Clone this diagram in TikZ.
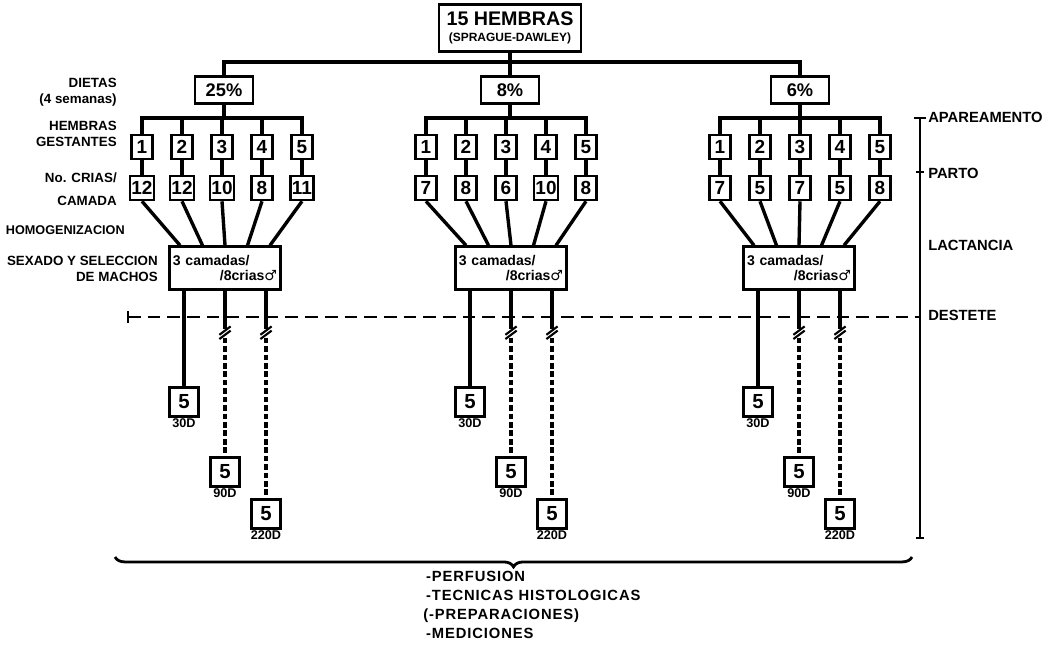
\documentclass[tikz,border=0pt]{standalone}
\usepackage{fontspec}
\setmainfont{Liberation Sans}
\newfontfamily\malefont{DejaVu Sans}
\usetikzlibrary{decorations.pathreplacing}

\begin{document}
\begin{tikzpicture}[
x=0.025cm, y=-0.025cm,
font=\bfseries,
% Define box styles
topbox/.style = {rectangle, draw=black, line width=1.9pt, minimum width=3.55cm, minimum height=1.175cm, inner sep=1pt, align=center},
dietbox/.style = {rectangle, draw=black, line width=1.9pt, minimum width=1.45cm, minimum height=0.675cm, inner sep=1pt, font=\bfseries\fontsize{13}{14}\selectfont},
numbox/.style = {rectangle, draw=black, line width=1.8pt, minimum width=0.525cm, minimum height=0.6cm, inner sep=1pt, font=\bfseries\fontsize{13.5}{14}\selectfont},
mixbox/.style = {rectangle, draw=black, line width=1.6pt, minimum width=2.775cm, minimum height=1.075cm, text width=2.6cm, align=left, inner sep=2pt, font=\bfseries\fontsize{10}{11}\selectfont},
resbox/.style = {rectangle, draw=black, line width=1.9pt, minimum width=0.74cm, minimum height=0.74cm, inner sep=1pt, font=\bfseries\fontsize{14.5}{15}\selectfont, label distance=2pt},
stage/.style = {anchor=east, align=right, inner sep=0pt, font=\bfseries\fontsize{9.5}{11}\selectfont},
phase/.style = {anchor=west, inner sep=0pt, font=\bfseries\fontsize{10.5}{12}\selectfont},
days/.style = {inner sep=0pt, font=\bfseries\fontsize{9}{10}\selectfont},
link/.style = {line width=2.4pt},
later/.style = {line width=2.4pt, dash pattern=on 4pt off 2pt},
cut/.style = {line width=1.5pt}
]
\useasboundingbox (0,0) rectangle (1062,649);

% Nodes
\node (top) [topbox] at (510,28) {\fontsize{14}{15}\selectfont 15 HEMBRAS\\[-1pt]\fontsize{8.5}{9}\selectfont (SPRAGUE-DAWLEY)};
\coordinate (split) at (510,62);

% One block per diet
\foreach \g/\cx/\mx/\dx/\pct/\ca/\cb/\cc/\cd/\ce in {
  1/222/225/224/25\%/12/12/10/8/11,
  2/506/511/510/8\%/7/8/6/10/8,
  3/800/799/800/6\%/7/5/7/5/8}
{
  \node (d\g) [dietbox] at (\dx,90) {\pct};
  \coordinate (bar\g) at (\cx,118);
  \node (m\g) [mixbox] at (\mx,268) {3 camadas/\\\hspace*{\fill}/8crias{\malefont ♂}};

  \foreach \i/\n in {1/\ca,2/\cb,3/\cc,4/\cd,5/\ce} {
    \node (h\g-\i) [numbox] at ({\cx+(\i-3)*40},147) {\i};
    \node (c\g-\i) [numbox] at ({\cx+(\i-3)*40},188) {\n};
    \draw [link] (h\g-\i.north) -- (h\g-\i.north |- bar\g);
    \draw [link] (h\g-\i) -- (c\g-\i);
    \draw [link] (c\g-\i.south) -- ([xshift={(\i-3)*16pt}]m\g.north);
  }
  \draw [link] (d\g.south) -- (d\g.south |- bar\g);
  \draw [link] ([xshift=-1.2pt]h\g-1.north |- bar\g) -- ([xshift=1.2pt]h\g-5.north |- bar\g);

  % Groups after weaning
  \node (r\g-1) [resbox, label={[days,name=l\g-1]below:30D}] at (\mx-41,402) {5};
  \node (r\g-2) [resbox, label={[days,name=l\g-2]below:90D}] at (\mx,472) {5};
  \node (r\g-3) [resbox, label={[days,name=l\g-3]below:220D}] at (\mx+41,514) {5};
  \coordinate (k\g-2) at (\mx,332);
  \coordinate (k\g-3) at (\mx+41,332);

  \draw [link] (r\g-1.north |- m\g.south) -- (r\g-1);
  \draw [link] (k\g-2 |- m\g.south) -- ([yshift=2pt]k\g-2);
  \draw [link] (k\g-3 |- m\g.south) -- ([yshift=2pt]k\g-3);
  \draw [later] ([yshift=-4pt]k\g-2) -- (r\g-2);
  \draw [later] ([yshift=-4pt]k\g-3) -- (r\g-3);
  \draw [cut] ([shift={(-4pt,-2pt)}]k\g-2) -- ++(8pt,6pt);
  \draw [cut] ([shift={(-4pt,-5pt)}]k\g-2) -- ++(8pt,6pt);
  \draw [cut] ([shift={(-4pt,-2pt)}]k\g-3) -- ++(8pt,6pt);
  \draw [cut] ([shift={(-4pt,-5pt)}]k\g-3) -- ++(8pt,6pt);
}

% Top branches
\draw [link] (top) -- (d2);
\draw [link] (d1.north) -- (d1.north |- split) -- (d3.north |- split) -- (d3.north);

% Left labels
\node (diet) [stage] at (117,92) {DIETAS\\(4 semanas)};
\node (pregnant) [stage] at (117,134) {HEMBRAS\\GESTANTES};
\node (litter) [stage] at (117,189) {No. CRIAS/\\[5pt]CAMADA};
\node (mixing) [stage, font=\bfseries\fontsize{9}{11}\selectfont] at (125,230) {HOMOGENIZACION};
\node (sexing) [stage] at (158,269) {SEXADO Y SELECCION\\DE MACHOS};

% Time scale
\coordinate (t0) at (920,118);
\coordinate (t1) at (920,172);
\coordinate (t2) at (920,317);
\coordinate (t3) at (920,538);
\coordinate (dl) at (128,317);
\draw [line width=1.7pt] (t0) -- (t3);
\draw [line width=1.4pt] ([xshift=-4pt]t0) -- ([xshift=4pt]t0);
\draw [line width=1.4pt] ([xshift=-3pt]t1) -- ([xshift=3pt]t1);
\draw [line width=1.4pt] ([xshift=-3pt]t3) -- ([xshift=3pt]t3);
\draw [line width=1.3pt, dash pattern=on 9pt off 5pt] (dl) -- (t2);
\draw [line width=1.3pt] ([yshift=-4pt]dl) -- ([yshift=4pt]dl);
\node (mating) [phase] at (928,117) {APAREAMENTO};
\node (birth) [phase] at (928,173) {PARTO};
\node (nursing) [phase] at (928,245) {LACTANCIA};
\node (weaning) [phase] at (928,315) {DESTETE};

% Brace and studies
\coordinate (bl) at (115,557);
\coordinate (br) at (912,557);
\draw [line width=2pt, decorate, decoration={brace, amplitude=7pt}] (br) -- (bl);
\node (studies) [anchor=north west, align=left, inner sep=0pt, font=\bfseries\fontsize{10.5}{13.5}\selectfont\addfontfeature{LetterSpace=6}] at (423,571)
  {\hspace*{2pt}-PERFUSION\\\hspace*{2pt}-TECNICAS HISTOLOGICAS\\(-PREPARACIONES)\\\hspace*{2pt}-MEDICIONES};
\end{tikzpicture}
\end{document}
